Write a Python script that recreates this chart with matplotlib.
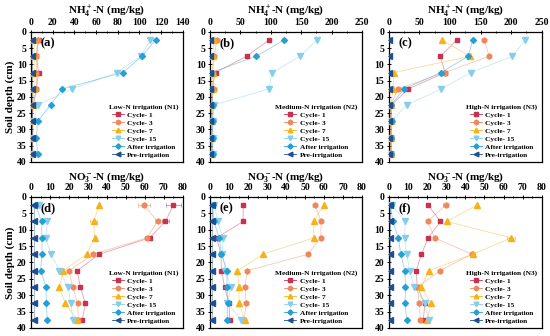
import matplotlib
matplotlib.use("Agg")
import matplotlib.pyplot as plt
from matplotlib.ticker import MultipleLocator, AutoMinorLocator

plt.rcParams['font.family'] = ['Liberation Serif', 'DejaVu Serif']
plt.rcParams['font.weight'] = 'bold'
plt.rcParams['mathtext.fontset'] = 'custom'
plt.rcParams['mathtext.rm'] = 'Liberation Serif:bold'
plt.rcParams['mathtext.it'] = 'Liberation Serif:bold'
plt.rcParams['mathtext.bf'] = 'Liberation Serif:bold'

depth = [2.5, 7.5, 12.5, 17.5, 22.5, 27.5, 32.5, 37.5]
series_names = ["Cycle- 1", "Cycle- 3", "Cycle- 7", "Cycle- 15", "After irrigation", "Pre-irrigation"]

# NH4+-N
a_c1 = [7, 5, 7, 5, 2, 1, 1, 1]
a_c3 = [6, 5, 5, 5, 2, 1, 1, 1]
a_c7 = [3, 3, 3, 3, 1.5, 1, 1, 1]
a_c15 = [110, 101, 79, 38, 6, 2, 2, 2]
a_after = [115, 102, 85, 29, 18, 6, 5, 6]
a_pre = [1, 1, 1, 1, 1, 1, 1, 1]

b_c1 = [97, 60, 9, 3, 2, 2, 2, 2]
b_c3 = [11, 7, 4, 6, 3, 3, 3, 3]
b_c7 = [6, 5, 4, 5, 3, 3, 3, 3]
b_c15 = [176, 148, 102, 97, 6, 5, 5, 5]
b_after = [122, 76, 2, 2, 5, 4, 4, 4]
b_pre = [0.5, 0.5, 0.5, 0.5, 0.5, 0.5, 0.5, 0.5]

c_c1 = [111, 84, 92, 32, 4, 3, 3, 3]
c_c3 = [156, 164, 91, 15, 3, 3, 3, 3]
c_c7 = [87, 133, 8, 7, 3, 3, 3, 3]
c_c15 = [223, 202, 134, 86, 29, 4, 4, 4]
c_after = [137, 130, 85, 25, 3, 5, 4, 4]
c_pre = [0.5, 0.5, 0.5, 0.5, 0.5, 0.5, 0.5, 0.5]

# NO3--N
d_c1 = [75, 70.8, 62.5, 36, 24.3, 26, 28.6, 27]
d_c3 = [59.5, 66.7, 61, 32.8, 20, 22, 24.5, 25]
d_c7 = [36, 33, 33.5, 29.4, 17, 15, 18, 24.3]
d_c15 = [4, 8.6, 7.7, 10.5, 15, 19.5, 21, 22]
d_after = [2.3, 5.6, 5.8, 5.8, 5, 8, 8, 8.6]
d_pre = [1.4, 1.4, 1.4, 1.4, 1.4, 1.4, 1.4, 1.4]
d_c1_err = [4, 2, 1.5, 0.5, 0.5, 0.5, 0.5, 1]
d_c3_err = [3, 1.5, 1, 0.5, 0.5, 0.5, 0.5, 0.5]
d_c7_err = [0.5, 2, 0.5, 0.5, 0.5, 0.5, 0.5, 0.5]

e_c1 = [17.5, 17.4, 3.5, 5.7, 6, 7.6, 10, 10.3]
e_c3 = [55.3, 58.5, 58.3, 51.6, 19.7, 18.3, 19, 18]
e_c7 = [59.8, 54.6, 54.6, 27.8, 14.4, 15.2, 15.2, 18.3]
e_c15 = [2.3, 4, 6.7, 6.5, 8, 11, 9, 16.5]
e_after = [1.4, 2, 4.8, 6, 8.9, 8.9, 9.2, 9]
e_pre = [1, 1, 1, 1, 1, 1, 1, 1]

f_c1 = [20.6, 27, 20.6, 17, 14.4, 14.8, 18.9, 18]
f_c3 = [29.7, 20.3, 24, 43.4, 26.7, 15, 15.8, 16.5]
f_c7 = [46, 30.4, 64, 44, 21, 17, 22, 20]
f_c15 = [1.5, 8.5, 8.2, 9.3, 10.9, 13.3, 18.7, 21]
f_after = [1, 2, 5, 6.2, 8.4, 8.7, 8.5, 9.3]
f_pre = [0.5, 0.5, 0.5, 0.5, 0.5, 0.5, 0.5, 0.5]
f_c3_err = [1.5, 0.5, 0.5, 0.5, 0.5, 0.5, 0.5, 0.5]
f_c7_err = [0.5, 0.5, 2, 1, 0.5, 0.5, 0.5, 0.5]

colors = ["#C8324F", "#F0875A", "#F5B21A", "#86CDEB", "#23A0D4", "#1F4F8E"]
markers = ["s", "h", "^", "v", "D", "<"]
msizes = [3.3, 3.7, 3.7, 3.7, 3.0, 3.7]

nh4_label = r"NH$_4^+$-N (mg/kg)"
no3_label = r"NO$_3^-$-N (mg/kg)"

panels = [
    dict(data=[a_c1, a_c3, a_c7, a_c15, a_after, a_pre], err={}, xmax=140, xstep=20,
         tag="(a)", leg="Low-N irrigation (N1)", xl=nh4_label,
         pos=[0.0564, 0.518, 0.276, 0.387]),
    dict(data=[b_c1, b_c3, b_c7, b_c15, b_after, b_pre], err={}, xmax=250, xstep=50,
         tag="(b)", leg="Medium-N irrigation (N2)", xl=nh4_label,
         pos=[0.382, 0.518, 0.276, 0.387]),
    dict(data=[c_c1, c_c3, c_c7, c_c15, c_after, c_pre], err={}, xmax=250, xstep=50,
         tag="(c)", leg="High-N irrigation (N3)", xl=nh4_label,
         pos=[0.707, 0.518, 0.278, 0.387]),
    dict(data=[d_c1, d_c3, d_c7, d_c15, d_after, d_pre],
         err={0: d_c1_err, 1: d_c3_err, 2: d_c7_err}, xmax=80, xstep=10,
         tag="(d)", leg="Low-N irrigation (N1)", xl=no3_label,
         pos=[0.0564, 0.024, 0.276, 0.39]),
    dict(data=[e_c1, e_c3, e_c7, e_c15, e_after, e_pre], err={}, xmax=80, xstep=10,
         tag="(e)", leg="Medium-N irrigation (N2)", xl=no3_label,
         pos=[0.382, 0.024, 0.276, 0.39]),
    dict(data=[f_c1, f_c3, f_c7, f_c15, f_after, f_pre],
         err={1: f_c3_err, 2: f_c7_err}, xmax=80, xstep=10,
         tag="(f)", leg="High-N irrigation (N3)", xl=no3_label,
         pos=[0.707, 0.024, 0.278, 0.39]),
]

fig = plt.figure(figsize=(5.5, 3.36), dpi=100)

for i, p in enumerate(panels):
    ax = fig.add_axes(p["pos"])
    for k, vals in enumerate(p["data"]):
        ax.plot(vals, depth, color=colors[k], lw=0.6, alpha=0.45, zorder=2)
        ax.plot(vals, depth, linestyle="none", marker=markers[k], ms=msizes[k],
                color=colors[k], mec=colors[k], zorder=3, label=series_names[k])
        if k in p["err"]:
            ax.errorbar(vals, depth, xerr=p["err"][k], fmt="none", ecolor=colors[k],
                        elinewidth=0.5, capsize=1.5, capthick=0.5, alpha=0.7, zorder=2)
    ax.set_xlim(0, p["xmax"])
    ax.set_ylim(40, 0)
    ax.xaxis.set_major_locator(MultipleLocator(p["xstep"]))
    ax.xaxis.set_minor_locator(AutoMinorLocator(2))
    ax.yaxis.set_major_locator(MultipleLocator(5))
    ax.yaxis.set_minor_locator(AutoMinorLocator(2))
    ax.xaxis.tick_top()
    ax.xaxis.set_label_position("top")
    ax.tick_params(axis="both", which="major", direction="inout", length=3.5, width=0.7,
                   labelsize=7, pad=1.5)
    ax.tick_params(axis="both", which="minor", direction="inout", length=2, width=0.6)
    ax.tick_params(axis="x", which="both", top=True, bottom=False)
    ax.tick_params(axis="y", which="both", left=True, right=False)
    for lab in ax.get_xticklabels() + ax.get_yticklabels():
        lab.set_fontweight("bold")
    for s in ax.spines.values():
        s.set_linewidth(0.9)
    ax.set_xlabel(p["xl"], fontsize=8, fontweight="bold", labelpad=3)
    if i % 3 == 0:
        ax.set_ylabel("Soil depth (cm)", fontsize=8, fontweight="bold", labelpad=1)
    ax.text(0.06, 0.96, p["tag"], transform=ax.transAxes, fontsize=9,
            fontweight="bold", va="top", ha="left")
    leg = ax.legend(title=p["leg"], loc="lower right", frameon=False, fontsize=5.3,
                    title_fontsize=5.3, handlelength=1.6, handletextpad=0.5,
                    labelspacing=0.25, borderaxespad=0.2, markerscale=0.9,
                    bbox_to_anchor=(1.0, 0.0))
    leg.get_title().set_fontweight("bold")
    for t in leg.get_texts():
        t.set_fontweight("bold")
    for h, k in zip(leg.legend_handles, range(6)):
        h.set_linestyle("-")
        h.set_linewidth(0.6)

fig.savefig("out.png", dpi=100)
